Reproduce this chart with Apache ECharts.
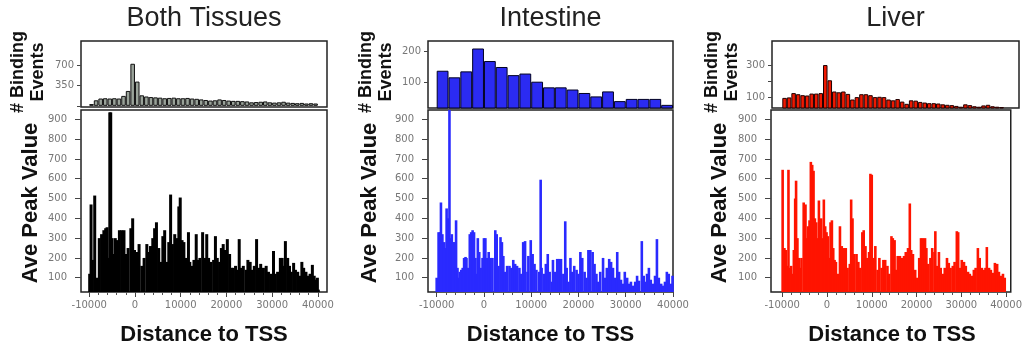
<!DOCTYPE html>
<html><head><meta charset="utf-8">
<script src="https://cdn.jsdelivr.net/npm/echarts@6/dist/echarts.min.js"></script>
<style>html,body{margin:0;padding:0;background:#fff}#c{width:1025px;height:352px}</style>
</head><body><div id="c"></div>
<script>
// ---------- DATA ----------
const titles = ['Both Tissues', 'Intestine', 'Liver'];
const xTickValues = [-10000, 0, 10000, 20000, 30000, 40000];
const xMinorTicks = [-8000,-6000,-4000,-2000,2000,4000,6000,8000,12000,14000,16000,18000,22000,24000,26000,28000,32000,34000,36000,38000];
const yTickValues = [100, 200, 300, 400, 500, 600, 700, 800, 900];

// histogram bin centres (bp) and counts
const bothHistCenters = [-9500,-8500,-7500,-6500,-5500,-4500,-3500,-2500,-1500,-500,500,1500,2500,3500,4500,5500,6500,7500,8500,9500,10500,11500,12500,13500,14500,15500,16500,17500,18500,19500,20500,21500,22500,23500,24500,25500,26500,27500,28500,29500,30500,31500,32500,33500,34500,35500,36500,37500,38500,39500];
const bothHistCounts = [30,95,125,130,125,130,125,170,255,720,415,180,160,150,145,140,130,135,140,130,130,135,125,120,110,100,90,95,110,100,90,85,85,80,75,60,65,70,75,60,55,60,70,55,50,45,50,40,45,40];
const intHistCenters = [-8750,-6250,-3750,-1250,1250,3750,6250,8750,11250,13750,16250,18750,21250,23750,26250,28750,31250,33750,36250,38750];
const intHistCounts = [137,116,135,208,168,149,123,128,102,84,84,77,66,55,71,40,47,47,47,28];
const livHistCenters = bothHistCenters;
const livHistCounts = [95,98,125,118,112,110,122,122,125,300,205,135,130,135,120,85,100,118,118,112,100,102,100,85,80,88,72,58,80,78,70,66,62,62,60,55,52,50,45,40,55,50,43,40,48,52,43,40,38,35];

// average peak value vs distance to TSS
const bothDist = [-9900,-9600,-9300,-8800,-8400,-7800,-7300,-6800,-6400,-6100,-5800,-5500,-5300,-5000,-4700,-4300,-3900,-3400,-2900,-2400,-2000,-1500,-900,-500,-100,400,900,1500,2000,2600,3000,3400,3900,4300,4700,5200,5600,6100,6500,6900,7400,7800,8200,8700,9100,9600,9900,10300,10700,11200,11700,12000,12500,12900,13400,13800,14200,14800,15300,15700,16100,16600,17200,17600,18000,18500,18900,19300,19800,20200,20700,21100,21500,22000,22400,22800,23300,23700,24300,24700,25200,25600,26100,26600,27100,27500,28100,28700,29200,29700,30300,30700,31200,31800,32200,32600,32900,33400,33800,34200,34700,35100,35600,36000,36500,36900,37400,37900,38300,38800,39200,39600,39900,40100];
const bothPeak = [120,470,190,515,100,300,320,340,350,355,200,935,935,300,220,300,290,340,340,340,220,250,350,400,240,230,270,160,200,270,230,260,300,350,380,250,180,310,340,180,280,520,270,320,300,460,505,290,280,200,330,180,160,190,320,190,200,330,200,320,200,180,190,310,200,180,250,270,240,295,220,150,150,160,140,295,150,160,140,190,180,140,160,295,150,170,150,160,130,120,235,120,130,200,200,160,285,200,160,130,175,140,130,110,180,150,130,110,120,165,110,90,100,40];

const intDist = [-10000,-9600,-9300,-9100,-8800,-8400,-8200,-7900,-7600,-7300,-7000,-6800,-6500,-6200,-5900,-5600,-5400,-5100,-4800,-4500,-4200,-3900,-3700,-3400,-3000,-2700,-2400,-2100,-1800,-1500,-1300,-1000,-700,-300,0,300,600,1000,1400,1800,2400,2700,3100,3500,3800,4100,4500,4900,5400,5800,6200,6600,7000,7500,7900,8300,8700,9200,9400,9900,10300,10700,11100,11700,12000,12200,12700,13100,13500,13900,14400,14600,15100,15500,15900,16300,16800,17200,17500,17900,18300,18700,19100,19600,20000,20400,20800,21300,21700,22100,22500,23000,23400,23800,24200,24600,25200,25600,26000,26500,26900,27300,27700,28200,28600,29000,29400,29800,30300,30700,31100,31500,32000,32400,32800,33400,33800,34200,34500,34900,35300,35800,36200,36600,37000,37500,37900,38300,38700,39100,39600,39900];
const intPeak = [100,330,330,480,320,280,250,450,400,980,300,320,280,280,390,150,100,130,140,150,200,205,200,150,320,330,340,330,200,120,300,230,150,200,300,300,200,230,200,200,340,320,160,305,280,210,130,160,160,150,190,170,160,150,120,280,285,130,210,290,220,170,140,130,595,150,120,170,220,130,80,190,130,195,195,195,120,385,150,80,200,130,160,140,120,230,200,130,100,240,240,230,170,120,80,130,200,100,150,195,180,150,100,230,130,90,70,130,100,70,80,60,80,110,85,285,110,80,120,150,90,70,110,295,100,70,60,80,130,120,70,110];

const livDist = [-9900,-9500,-9200,-8900,-8600,-8300,-8000,-7700,-7400,-7100,-6900,-6600,-6300,-6000,-5700,-5200,-4800,-4500,-4200,-3900,-3600,-3300,-3000,-2700,-2400,-2100,-1800,-1500,-1300,-1000,-700,-400,-100,200,500,800,1100,1400,1700,2000,2400,2900,3300,3800,4200,4600,5100,5400,5700,6100,6600,7000,7400,7900,8200,8600,8900,9400,9700,10000,10400,10800,11300,11700,12200,12600,13000,13500,13900,14400,14700,15100,15400,15800,16300,16700,17200,17600,18100,18500,18800,19200,19700,20100,20600,21000,21400,21900,22200,22600,23100,23500,24000,24200,24500,25000,25400,25900,26300,26800,27200,27600,28100,28500,29000,29300,29700,30100,30600,31000,31500,31900,32400,32800,33200,33700,34100,34600,35000,35400,35700,36200,36600,37100,37500,38000,38400,38800,39300,39700];
const livPeak = [645,250,240,160,645,150,160,120,240,500,590,300,200,150,200,480,470,300,360,390,685,670,640,400,380,300,490,390,400,300,495,360,330,310,200,380,390,250,190,180,120,360,260,250,250,150,170,495,400,220,220,180,150,330,340,260,200,230,625,620,200,260,140,200,150,190,190,160,120,310,300,290,140,210,210,200,210,230,250,475,240,220,140,100,200,300,300,300,250,170,200,250,230,335,160,230,150,120,150,200,175,150,160,180,335,330,150,190,180,160,130,120,110,140,150,250,200,150,140,150,255,150,140,125,175,170,130,110,120,100];

// ---------- LAYOUT ----------
const FONT = '"Liberation Sans", Arial, sans-serif';
const TICKFONT = '"DejaVu Sans", sans-serif';
const panels = [
  { title: titles[0], needle: '#000000', histFill: '#9aa39a', histBorder: '#111',
    top: [81, 41, 327, 107], bot: [81, 110, 327, 292],
    topX: [-11800, 42000], botX: [-11800, 42000],
    topY: [-20, 1110], topTicks: [0, 350, 700], topLabels: [350, 700],
    hc: bothHistCenters, hv: bothHistCounts, d: bothDist, p: bothPeak,
    yNameX: 31, bindX: 28, barW: 3 },
  { title: titles[1], needle: '#2a2aff', histFill: '#2b2bf2', histBorder: '#000022',
    top: [428, 41, 673, 108], bot: [428, 110, 673, 292],
    topX: [-11840, 40000], botX: [-11840, 40000],
    topY: [18, 232], topTicks: [100, 200], topLabels: [100, 200],
    hc: intHistCenters, hv: intHistCounts, d: intDist, p: intPeak,
    yNameX: 370, bindX: 376, barW: 2.6 },
  { title: titles[2], needle: '#ff1400', histFill: '#f01800', histBorder: '#220000',
    top: [772, 41, 1019, 108], bot: [771, 110, 1013, 292],
    topX: [-12280, 42350], botX: [-12500, 41040],
    topY: [32, 450], topTicks: [100, 200, 300], topLabels: [100, 300],
    hc: livHistCenters, hv: livHistCounts, d: livDist, p: livPeak,
    yNameX: 720, bindX: 722, barW: 2.6 }
];

const grids = [], xAxes = [], yAxes = [], series = [], graphics = [];
const plain = v => String(v);
function grid(b) {
  grids.push({ left: b[0], top: b[1], width: b[2] - b[0], height: b[3] - b[1],
    show: true, borderColor: '#222', borderWidth: 1.5, backgroundColor: 'transparent', containLabel: false });
  return grids.length - 1;
}
const tickLabelStyle = { fontFamily: TICKFONT, fontSize: 10, color: '#777' };
const noLine = { show: false, onZero: false };

panels.forEach(P => {
  // ---- top histogram ----
  const gt = grid(P.top);
  const xt = xAxes.length;
  xAxes.push({ type: 'value', gridIndex: gt, min: P.topX[0], max: P.topX[1], position: 'bottom',
    axisLine: noLine, axisTick: { show: false }, axisLabel: { show: false }, splitLine: { show: false } });
  const yt = yAxes.length;
  yAxes.push({ type: 'value', gridIndex: gt, min: P.topY[0], max: P.topY[1], position: 'left',
    axisLine: noLine, splitLine: { show: false },
    axisTick: { show: true, customValues: P.topTicks, length: 4, lineStyle: { color: '#444', width: 1 } },
    axisLabel: Object.assign({ show: true, customValues: P.topLabels, formatter: plain, margin: 7 }, tickLabelStyle) });
  series.push({ type: 'bar', xAxisIndex: xt, yAxisIndex: yt, clip: true, barWidth: '100%',
    data: P.hc.map((c, i) => [c, P.hv[i]]), animation: false,
    itemStyle: { color: P.histFill, borderColor: P.histBorder, borderWidth: 1 } });

  // ---- bottom needle plot ----
  const gb = grid(P.bot);
  const xb = xAxes.length;
  xAxes.push({ type: 'value', gridIndex: gb, min: P.botX[0], max: P.botX[1], position: 'bottom',
    axisLine: noLine, splitLine: { show: false },
    axisTick: { show: true, customValues: xTickValues, length: 5, lineStyle: { color: '#444', width: 1 } },
    axisLabel: Object.assign({ show: true, customValues: xTickValues, formatter: plain, margin: 8 }, tickLabelStyle) });
  xAxes.push({ type: 'value', gridIndex: gb, min: P.botX[0], max: P.botX[1], position: 'bottom',
    axisLine: noLine, splitLine: { show: false }, axisLabel: { show: false },
    axisTick: { show: true, customValues: xMinorTicks, length: 3, lineStyle: { color: '#555', width: 1 } } });
  const yb = yAxes.length;
  yAxes.push({ type: 'value', gridIndex: gb, min: 28, max: 947, position: 'left',
    axisLine: noLine, splitLine: { show: false },
    axisTick: { show: true, customValues: yTickValues, length: 6, lineStyle: { color: '#444', width: 1 } },
    axisLabel: Object.assign({ show: true, customValues: yTickValues, formatter: plain, margin: 14 }, tickLabelStyle) });
  series.push({ type: 'bar', xAxisIndex: xb, yAxisIndex: yb, clip: true, barWidth: P.barW,
    data: P.d.map((d, i) => [d, P.p[i]]), animation: false,
    itemStyle: { color: P.needle } });

  // ---- texts ----
  const cxTop = (P.top[0] + P.top[2]) / 2, cxBot = (P.bot[0] + P.bot[2]) / 2;
  graphics.push({ type: 'text', x: cxTop, y: 19, style: { text: P.title, font: '27px ' + FONT, fill: '#222',
    align: 'center', verticalAlign: 'middle', textAlign: 'center', textVerticalAlign: 'middle' } });
  graphics.push({ type: 'text', x: cxBot, y: 335, style: { text: 'Distance to TSS', font: 'bold 22px ' + FONT, fill: '#111',
    align: 'center', verticalAlign: 'middle', textAlign: 'center', textVerticalAlign: 'middle' } });
  graphics.push({ type: 'text', x: P.yNameX, y: 203, rotation: Math.PI / 2, style: { text: 'Ave Peak Value', font: 'bold 22px ' + FONT, fill: '#111',
    align: 'center', verticalAlign: 'middle', textAlign: 'center', textVerticalAlign: 'middle' } });
  graphics.push({ type: 'text', x: P.bindX, y: 72, rotation: Math.PI / 2, style: { text: '# Binding\nEvents', font: 'bold 18px ' + FONT, fill: '#111', lineHeight: 20,
    align: 'center', verticalAlign: 'middle', textAlign: 'center', textVerticalAlign: 'middle' } });
});

const chart = echarts.init(document.getElementById('c'), null, { renderer: 'canvas' });
chart.setOption({ animation: false, backgroundColor: '#fff', grid: grids, xAxis: xAxes, yAxis: yAxes, series: series, graphic: graphics });
</script>
</body></html>
